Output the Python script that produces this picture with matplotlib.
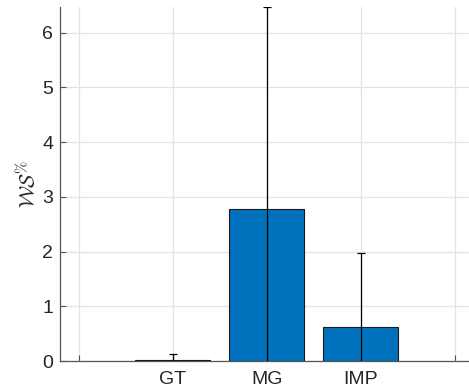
import numpy as np
import matplotlib.pyplot as plt

plt.rcParams['font.family'] = ['Liberation Sans', 'DejaVu Sans']
plt.rcParams['mathtext.fontset'] = 'cm'

methods = ["GT", "MG", "IMP"]
values = [0.027, 2.77, 0.615]
errors = [0.11, 3.7, 1.355]
xpos = [1, 2, 3]

fig = plt.figure(figsize=(4.69, 3.89), dpi=100)
ax = fig.add_axes([60 / 469, 28 / 389, 413.6 / 469, 354 / 389])

ax.bar(xpos, values, width=0.8, color="#0072BD", edgecolor="#1a1a1a", linewidth=0.8, zorder=3)
ax.errorbar(xpos, values, yerr=errors, fmt="none", ecolor="black", elinewidth=0.9,
            capsize=3, capthick=0.9, zorder=4)

ax.set_xlim(-0.2, 4.2)
ax.set_ylim(0, 6.47)
ax.set_xticks([0, 1, 2, 3, 4])
ax.set_xticklabels(["", "GT", "MG", "IMP", ""])
ax.set_yticks(range(0, 7))

ax.grid(True, color="#e3e3e3", linewidth=0.9, zorder=0)
ax.set_axisbelow(True)
for s in ["top", "right"]:
    ax.spines[s].set_visible(False)
for s in ["left", "bottom"]:
    ax.spines[s].set_color("#555555")
    ax.spines[s].set_linewidth(0.9)
ax.tick_params(direction="in", length=4, color="#555555", labelsize=14, labelcolor="#262626", pad=5)
ax.tick_params(axis="x", pad=7)

ax.set_ylabel(r"$\mathcal{WS}^{\%}$", fontsize=15, color="#262626", labelpad=1)

fig.savefig("out.png", dpi=100)
